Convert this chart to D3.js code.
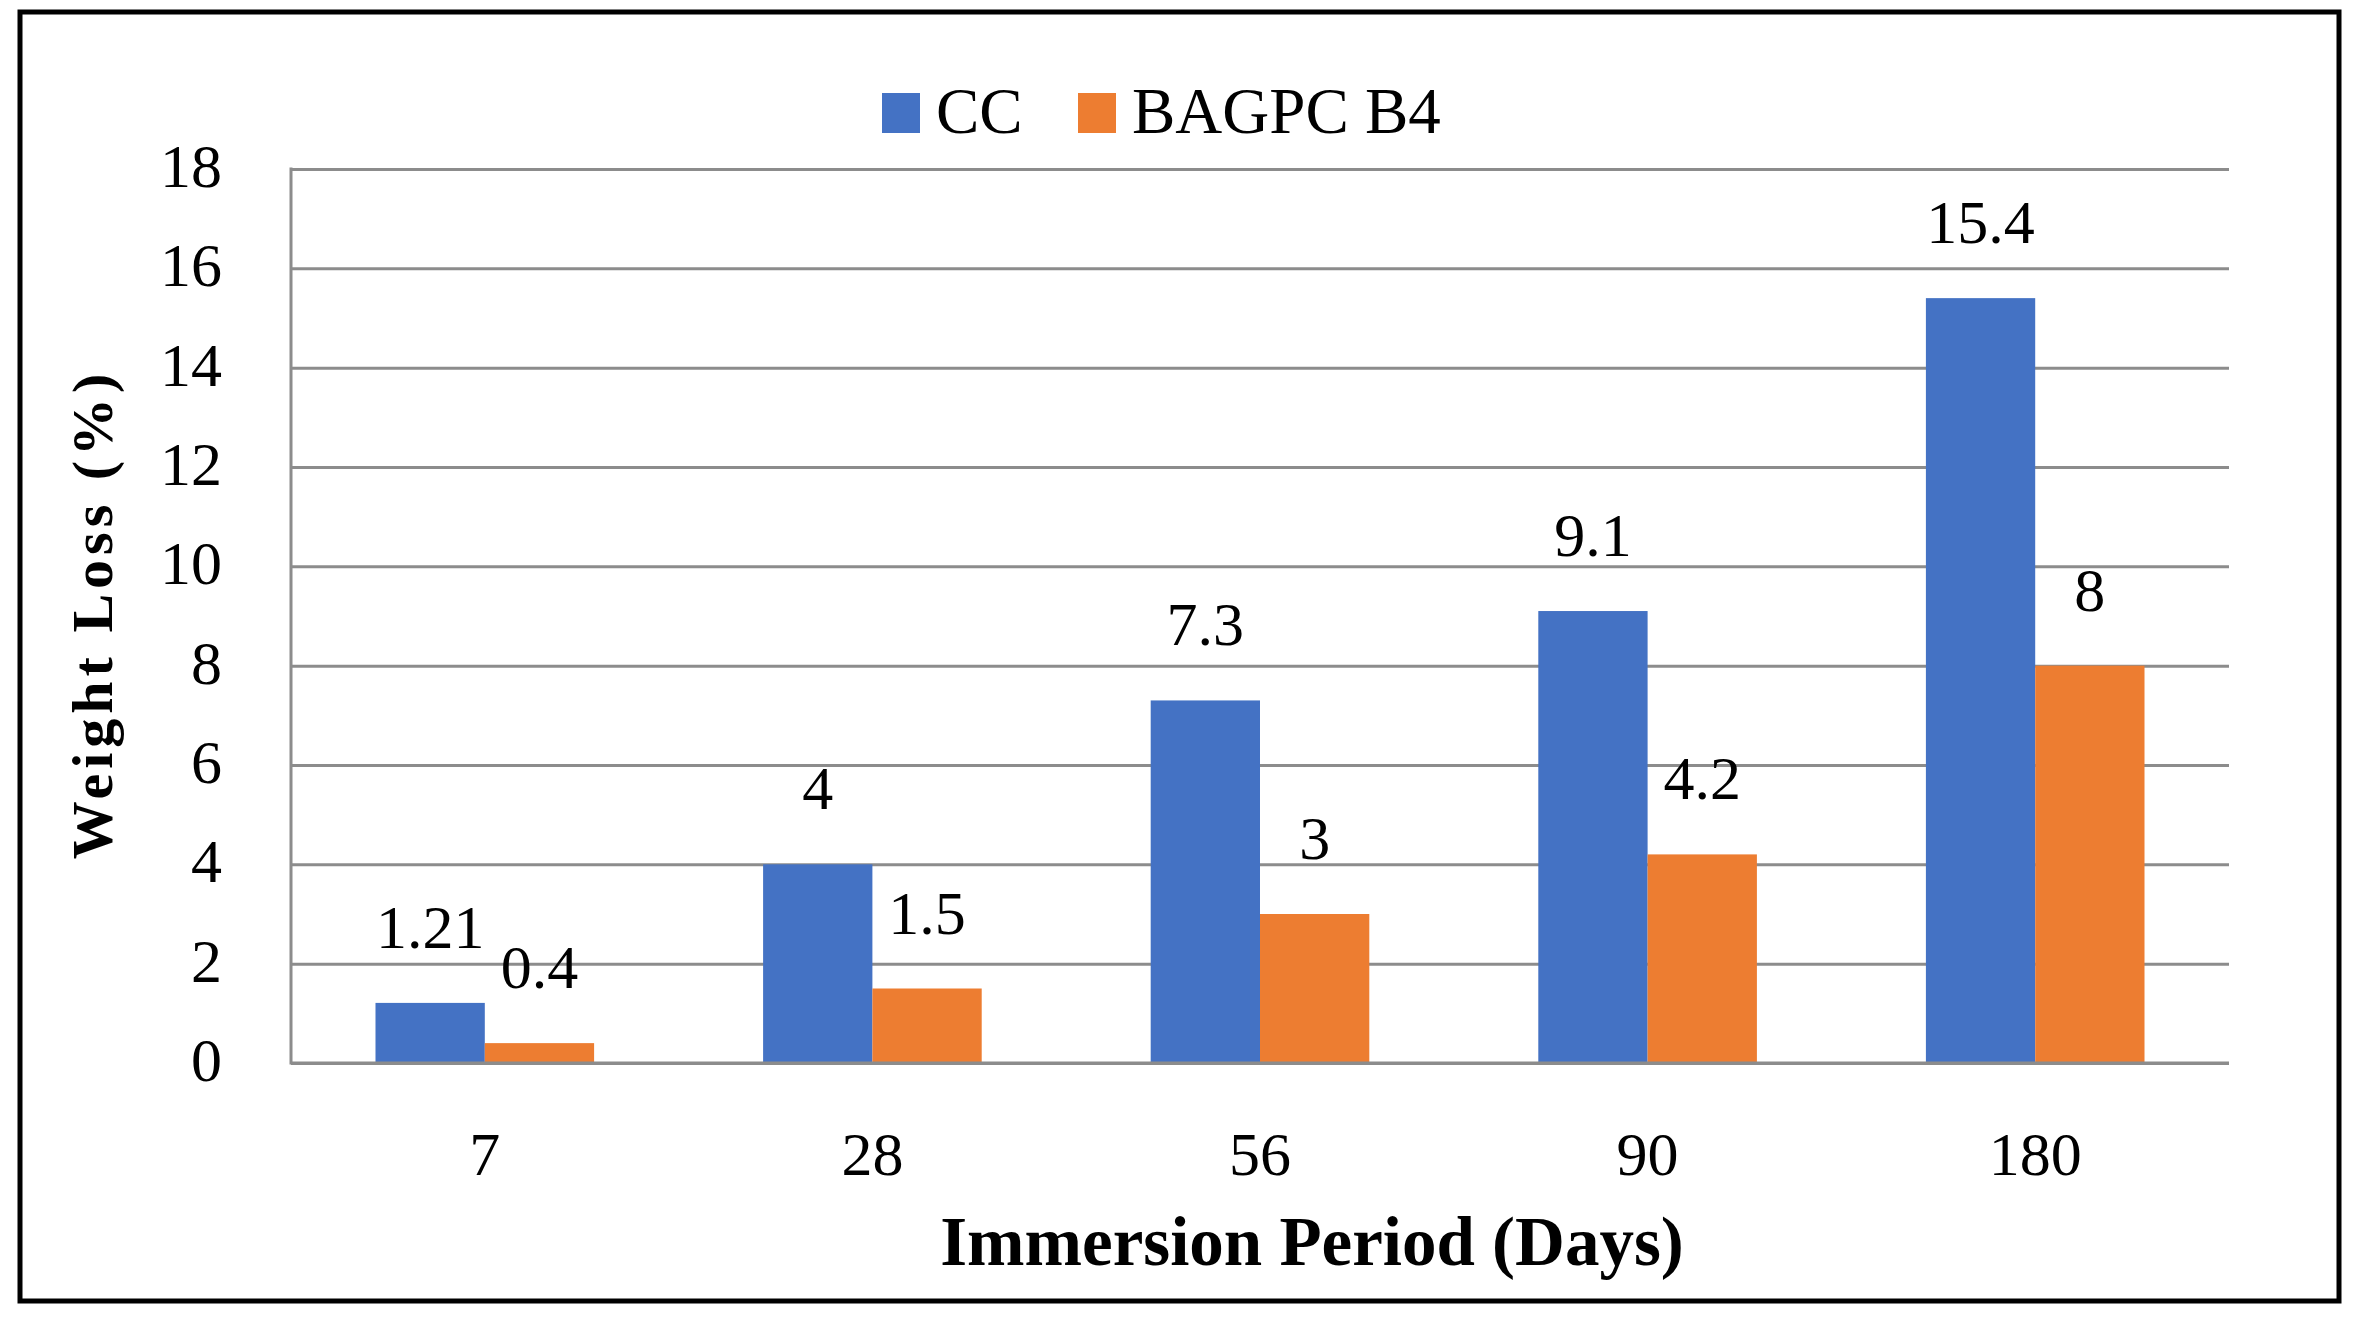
<!DOCTYPE html>
<html>
<head>
<meta charset="utf-8">
<script src="https://cdn.jsdelivr.net/npm/d3@7"></script>
<style>
  html, body { margin: 0; padding: 0; background: #fff; }
  svg { display: block; }
  text { font-family: "Liberation Serif", "Times New Roman", serif; fill: #000; }
</style>
</head>
<body>
<svg id="chart" width="2357" height="1320"></svg>
<script>
const categories = ["7", "28", "56", "90", "180"];
const seriesNames = ["CC", "BAGPC B4"];
const ccValues = [1.21, 4, 7.3, 9.1, 15.4];
const bagpcValues = [0.4, 1.5, 3, 4.2, 8];
const yTicks = [0, 2, 4, 6, 8, 10, 12, 14, 16, 18];
const colors = ["#4472C4", "#ED7D31"];

(function () {
const svg = d3.select("#chart");
const W = 2357, H = 1320;
const pLeft = 291, pRight = 2229, pTop = 169, pBottom = 1063;

svg.append("rect").attr("width", W).attr("height", H).attr("fill", "#fff");
svg.append("rect").attr("x", 20).attr("y", 12).attr("width", 2319).attr("height", 1289)
  .attr("fill", "none").attr("stroke", "#000").attr("stroke-width", 5);

const x = d3.scaleBand().domain(categories).range([pLeft, pRight]).paddingInner(0.436).paddingOuter(0.218);
const xs = d3.scaleBand().domain(seriesNames).range([0, x.bandwidth()]);
const y = d3.scaleLinear().domain([0, 18]).range([pBottom, pTop]);

// gridlines + y labels
const yAxis = svg.append("g").attr("transform", `translate(${pLeft},0)`)
  .call(d3.axisLeft(y).tickValues(yTicks).tickSize(-(pRight - pLeft)).tickPadding(69));
yAxis.select(".domain").remove();
yAxis.selectAll(".tick line").attr("stroke", "#8c8c8c").attr("stroke-width", 3);
yAxis.selectAll(".tick text").attr("font-size", 62).attr("font-family", "Liberation Serif").attr("fill", "#000").attr("dy", "0.28em");

// left vertical axis line
svg.append("line").attr("x1", pLeft).attr("x2", pLeft).attr("y1", pTop - 1.5).attr("y2", pBottom + 1.5)
  .attr("stroke", "#8c8c8c").attr("stroke-width", 3);

const data = categories.map((c, i) => ({ cat: c, vals: [ccValues[i], bagpcValues[i]] }));

const groups = svg.append("g").selectAll("g").data(data).join("g")
  .attr("transform", d => `translate(${x(d.cat)},0)`);

groups.selectAll("rect").data(d => d.vals.map((v, j) => ({ v, s: seriesNames[j], j })))
  .join("rect")
  .attr("x", d => xs(d.s))
  .attr("width", xs.bandwidth())
  .attr("y", d => y(d.v))
  .attr("height", d => y(0) - y(d.v))
  .attr("fill", d => colors[d.j]);

groups.selectAll("text.lbl").data(d => d.vals.map((v, j) => ({ v, s: seriesNames[j], j })))
  .join("text").attr("class", "lbl")
  .attr("x", d => xs(d.s) + xs.bandwidth() / 2)
  .attr("y", d => y(d.v) - 55)
  .attr("text-anchor", "middle")
  .attr("font-size", 62)
  .text(d => d.v);

// baseline redraw over bars
svg.append("line").attr("x1", pLeft).attr("x2", pRight).attr("y1", pBottom).attr("y2", pBottom)
  .attr("stroke", "#8c8c8c").attr("stroke-width", 3);

// x axis labels
const xAxis = svg.append("g").attr("transform", `translate(0,${pBottom})`)
  .call(d3.axisBottom(x).tickSize(0).tickPadding(0));
xAxis.select(".domain").remove();
xAxis.selectAll(".tick text").attr("font-size", 62).attr("font-family", "Liberation Serif").attr("fill", "#000")
  .attr("y", 112).attr("dy", 0);

// axis titles
svg.append("text").attr("x", 1312).attr("y", 1265).attr("text-anchor", "middle")
  .attr("font-size", 69).attr("font-weight", "bold").text("Immersion Period (Days)");
svg.append("text").attr("transform", "translate(112,614) rotate(-90)").attr("text-anchor", "middle")
  .attr("font-size", 58).attr("font-weight", "bold").attr("letter-spacing", 5).text("Weight Loss (%)");

// legend
const legendX = [882, 1078];
const leg = svg.append("g").selectAll("g").data(seriesNames).join("g")
  .attr("transform", (d, i) => `translate(${legendX[i]},93)`);
leg.append("rect").attr("width", 38).attr("height", 40).attr("fill", (d, i) => colors[i]);
leg.append("text").attr("x", 54).attr("y", 40).attr("font-size", 65).text(d => d);
})();
</script>
</body>
</html>
